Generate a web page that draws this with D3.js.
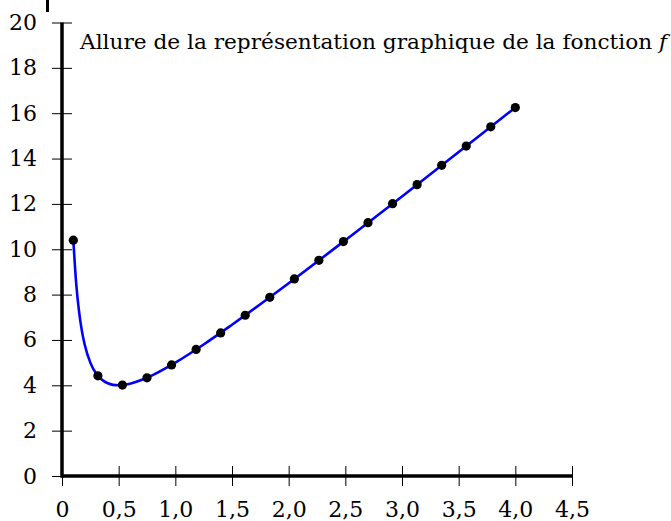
<!DOCTYPE html>
<html><head><meta charset="utf-8">
<script src="https://cdn.jsdelivr.net/npm/d3@7"></script>
<style>
html,body{margin:0;padding:0;background:#fff;}
svg{display:block;}
</style></head>
<body>
<svg id="chart" width="671" height="521"></svg>
<script>
// Sample points (dots)
const pointX = [0.1, 0.3167, 0.5333, 0.75, 0.9667, 1.1833, 1.4, 1.6167, 1.8333, 2.05, 2.2667, 2.4833, 2.7, 2.9167, 3.1333, 3.35, 3.5667, 3.7833, 4.0];
const pointY = [10.4, 4.42, 4.01, 4.33, 4.90, 5.58, 6.31, 7.09, 7.88, 8.69, 9.51, 10.34, 11.17, 12.01, 12.85, 13.70, 14.55, 15.40, 16.25];
// Curve
const curveX = [0.1, 0.125, 0.15, 0.175, 0.2, 0.25, 0.3, 0.35, 0.4, 0.45, 0.5, 0.6, 0.7, 0.8, 1.0, 1.25, 1.5, 2.0, 2.5, 3.0, 3.5, 4.0];
const curveY = [10.4, 8.5, 7.27, 6.41, 5.8, 5.0, 4.53, 4.26, 4.1, 4.02, 4.0, 4.07, 4.23, 4.45, 5.0, 5.8, 6.67, 8.5, 10.4, 12.33, 14.29, 16.25];
const xTicks = [0, 0.5, 1.0, 1.5, 2.0, 2.5, 3.0, 3.5, 4.0, 4.5];
const xTickLabels = ["0", "0,5", "1,0", "1,5", "2,0", "2,5", "3,0", "3,5", "4,0", "4,5"];
const yTicks = [0, 2, 4, 6, 8, 10, 12, 14, 16, 18, 20];
const titleText = "Allure de la représentation graphique de la fonction ";
const titleVar = "f";

const svg = d3.select("#chart");
const x = d3.scaleLinear().domain([0, 4.5]).range([62, 572]);
const y = d3.scaleLinear().domain([0, 20]).range([476, 22.5]);
const font = "'DejaVu Serif', 'Liberation Serif', serif";

// small mark top-left
svg.append("rect").attr("x", 46).attr("y", 0).attr("width", 3).attr("height", 12).attr("fill", "#000");

// x axis
const gx = svg.append("g").attr("transform", `translate(0,${y(0)})`)
  .call(d3.axisBottom(x).tickValues(xTicks).tickFormat((d, i) => xTickLabels[i]).tickSize(10).tickPadding(15));
gx.select(".domain").remove();
gx.selectAll(".tick line").attr("y1", -10).attr("y2", 10).attr("stroke", "#000").attr("stroke-width", 1);
gx.selectAll(".tick text").attr("font-family", font).attr("font-size", 22).attr("fill", "#000");

// y axis
const gy = svg.append("g").attr("transform", `translate(${x(0)},0)`)
  .call(d3.axisLeft(y).tickValues(yTicks).tickFormat(d3.format("d")).tickSize(10).tickPadding(15));
gy.select(".domain").remove();
gy.selectAll(".tick line").attr("x1", -10).attr("x2", 10).attr("stroke", "#000").attr("stroke-width", 1);
gy.selectAll(".tick text").attr("font-family", font).attr("font-size", 22).attr("fill", "#000");

// axis lines
svg.append("line").attr("x1", x(0)).attr("x2", x(4.5)).attr("y1", y(0)).attr("y2", y(0))
  .attr("stroke", "#000").attr("stroke-width", 3.5);
svg.append("line").attr("x1", x(0)).attr("x2", x(0)).attr("y1", y(0) + 1.75).attr("y2", y(20))
  .attr("stroke", "#000").attr("stroke-width", 3.5);

// curve
const curveData = curveX.map((d, i) => [d, curveY[i]]);
svg.append("path").datum(curveData)
  .attr("d", d3.line().x(d => x(d[0])).y(d => y(d[1])).curve(d3.curveMonotoneX))
  .attr("fill", "none").attr("stroke", "#0000ff").attr("stroke-width", 2.6);

// points
svg.append("g").selectAll("circle").data(pointX.map((d, i) => [d, pointY[i]])).join("circle")
  .attr("cx", d => x(d[0])).attr("cy", d => y(d[1])).attr("r", 4.6).attr("fill", "#000");

// title
const t = svg.append("text").attr("x", 80).attr("y", 49)
  .attr("font-family", font).attr("font-size", 20).attr("fill", "#000")
  .attr("textLength", 587).attr("lengthAdjust", "spacingAndGlyphs");
t.append("tspan").text(titleText);
t.append("tspan").attr("font-style", "italic").text(titleVar);
</script>
</body></html>
